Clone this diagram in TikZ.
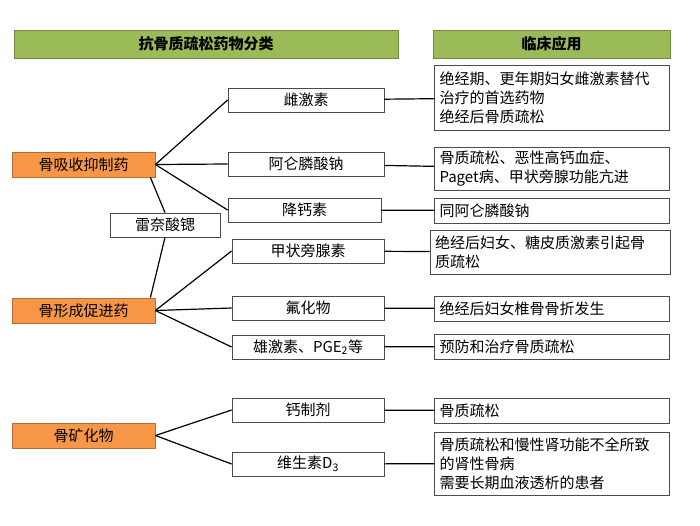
\documentclass[tikz,border=0pt]{standalone}
\usepackage{fontspec}
\setmainfont{Noto Sans CJK SC}
\definecolor{headgreen}{HTML}{9BBB59}
\definecolor{headline}{HTML}{71893F}
\definecolor{clsorange}{HTML}{F79646}
\definecolor{clsline}{HTML}{B66D31}
\tikzset{
  head/.style={draw=headline, fill=headgreen, line width=1pt, font=\fontsize{15}{17}\selectfont\bfseries, minimum height=28pt, inner sep=0pt},
  cls/.style={draw=clsline, fill=clsorange, line width=0.8pt, minimum width=143pt, minimum height=25pt, inner sep=0pt},
  drug/.style={draw=black!70, fill=white, line width=0.8pt, minimum height=24pt, inner sep=0pt},
  use/.style={draw=black!70, fill=white, line width=0.8pt, text width=225pt, inner xsep=5pt, inner ysep=2pt, align=left},
  link/.style={line width=1.2pt}
}
\begin{document}
\begin{tikzpicture}[x=1pt, y=-1pt, every node/.append style={font=\fontsize{15}{19}\selectfont}]
  \useasboundingbox (0,0) rectangle (700,525);
  % headers
  \node[head, minimum width=384pt] (hl) at (206,44) {抗骨质疏松药物分类};
  \node[head, minimum width=237pt] (hr) at (551.5,44) {临床应用};
  % classes
  \node[cls] (resorb) at (83.5,164.5) {骨吸收抑制药};
  \node[cls] (form) at (83.5,310.5) {骨形成促进药};
  \node[cls] (miner) at (83.5,435.5) {骨矿化物};
  \node[drug, minimum width=110pt] (sr) at (165,225) {雷奈酸锶};
  % drugs
  \node[drug, minimum width=156pt] (estr) at (306,100) {雌激素};
  \node[drug, minimum width=156pt] (alen) at (306,164) {阿仑膦酸钠};
  \node[drug, minimum width=153pt] (calc) at (304.5,210) {降钙素};
  \node[drug, minimum width=152pt] (pth) at (308,251) {甲状旁腺素};
  \node[drug, minimum width=152pt] (fluo) at (308,308) {氟化物};
  \node[drug, minimum width=152pt] (andr) at (308,347) {雄激素、PGE\textsubscript{2}等};
  \node[drug, minimum width=152pt] (ca) at (308,410) {钙制剂};
  \node[drug, minimum width=152pt] (vitd) at (308,464) {维生素D\textsubscript{3}};
  % uses
  \node[use, minimum height=65pt] (u1) at (552,97.5) {绝经期、更年期妇女雌激素替代\\治疗的首选药物\\绝经后骨质疏松};
  \node[use, minimum height=43pt] (u2) at (552,168.5) {骨质疏松、恶性高钙血症、\\Paget病、甲状旁腺功能亢进};
  \node[use, minimum height=25pt] (u3) at (552,210.5) {同阿仑膦酸钠};
  \node[use, minimum height=44pt, text width=230pt] (u4) at (550,252) {绝经后妇女、糖皮质激素引起骨\\质疏松};
  \node[use, minimum height=25pt] (u5) at (552,308.5) {绝经后妇女椎骨骨折发生};
  \node[use, minimum height=25pt] (u6) at (552,346.5) {预防和治疗骨质疏松};
  \node[use, minimum height=25pt] (u7) at (552,410.5) {骨质疏松};
  \node[use, minimum height=63pt] (u8) at (552,463.5) {骨质疏松和慢性肾功能不全所致\\的肾性骨病\\需要长期血液透析的患者};
  % links
  \foreach \d in {estr,alen,calc} \draw[link] (resorb.east) -- (\d.west);
  \foreach \d in {pth,fluo,andr} \draw[link] (form.east) -- (\d.west);
  \foreach \d in {ca,vitd} \draw[link] (miner.east) -- (\d.west);
  \draw[link] ([xshift=-5pt]resorb.south east) -- (sr.north);
  \draw[link] (sr.south) -- ([xshift=-5pt]form.north east);
  \draw[link] (estr) -- (u1);
  \draw[link] (alen) -- (u2);
  \draw[link] (calc) -- (u3);
  \draw[link] (pth) -- (u4);
  \draw[link] (fluo) -- (u5);
  \draw[link] (andr) -- (u6);
  \draw[link] (ca) -- (u7);
  \draw[link] (vitd) -- (u8);
\end{tikzpicture}
\end{document}
